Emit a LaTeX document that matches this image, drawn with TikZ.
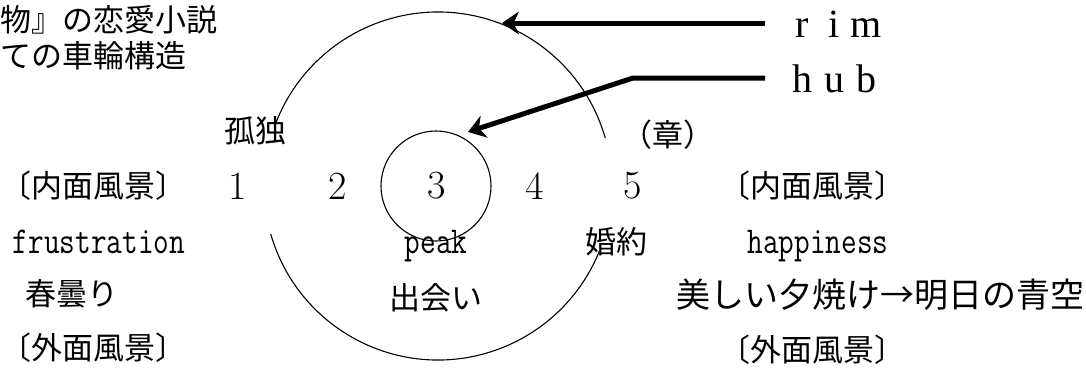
\documentclass[tikz,border=0pt]{standalone}
\usepackage{fontspec}
\newfontfamily\jp{Noto Sans CJK JP}
\newfontfamily\latserif{Liberation Serif}
\usetikzlibrary{arrows.meta,calc}
\newcommand\fwch[1]{\makebox[32pt]{#1}}
\newcommand\cond[1]{\scalebox{0.8}[1]{#1}}
\begin{document}
\begin{tikzpicture}[x=1pt,y=-1pt,
  jt/.style={font=\jp\fontsize{31}{36}\selectfont, inner sep=0pt},
  num/.style={font=\fontsize{40}{44}\selectfont, inner sep=0pt},
  mono/.style={font=\ttfamily\fontsize{38}{42}\selectfont, inner sep=0pt, anchor=base},
  lat/.style={font=\latserif\fontsize{40}{44}\selectfont, inner sep=0pt},
  ring/.style={line width=1.1pt},
  ptr/.style={line width=5pt, line join=miter, -{Stealth[length=17pt,width=23pt]}}
]
\useasboundingbox (0,0) rectangle (1086,370);

% title
\node[jt,anchor=west] (t1) at (0,20) {物』の恋愛小説};
\node[jt,anchor=west] (t2) at (0,56) {ての車輪構造};

% wheel
\coordinate (rimc) at (438,186);
\draw[ring] ([shift={(16:174pt)}]rimc) arc[start angle=16, end angle=160, radius=174pt];
\draw[ring] ([shift={(196:174pt)}]rimc) arc[start angle=196, end angle=338, radius=174pt];
\node[draw,circle,ring,minimum size=110pt,inner sep=0pt] (hub) at (436,186) {};

% row labels
\node[jt] (kodoku) at (255,131) {孤独};
\node[jt] (sho) at (668,135) {（章）};
\node[jt,anchor=west] (naimenL) at (0.5,186) {〔内面風景〕};
\node[jt] (naimenR) at (812,186) {〔内面風景〕};
\node[num] (n1) at (238,186) {1};
\node[num] (n2) at (338,186) {2};
\node[num] (n3) at (437,186) {3};
\node[num] (n4) at (535,186) {4};
\node[num] (n5) at (633,186) {5};
\node[mono] (frus) at (99,253) {\cond{frustration}};
\node[mono] (peak) at (436,253) {\cond{peak}};
\node[mono] (happy) at (818,253) {\cond{happiness}};
\node[jt] (kon) at (616,242) {婚約};
\node[jt] (haru) at (72,294) {春曇り};
\node[jt] (deai) at (436,298) {出会い};
\node[jt,font=\jp\fontsize{34}{38}\selectfont] (yuyake) at (880,295) {美しい夕焼け→明日の青空};
\node[jt,anchor=west] (gaimenL) at (0.5,348) {〔外面風景〕};
\node[jt] (gaimenR) at (812,350) {〔外面風景〕};

% rim / hub labels and arrows
\node[lat,anchor=base west] (riml) at (786,37) {\fwch{r}\fwch{i}\fwch{m}};
\node[lat,anchor=base west] (hubl) at (786,92) {\fwch{h}\fwch{u}\fwch{b}};
\coordinate (rimfrom) at (765,23);
\coordinate (rimtip) at (502,23);
\coordinate (hubfrom) at (765,78);
\coordinate (hubbend) at (633,78);
\coordinate (hubtip) at (468,132);
\draw[ptr] (rimfrom) -- (rimtip);
\draw[ptr] (hubfrom) -- (hubbend) -- (hubtip);
\end{tikzpicture}
\end{document}
